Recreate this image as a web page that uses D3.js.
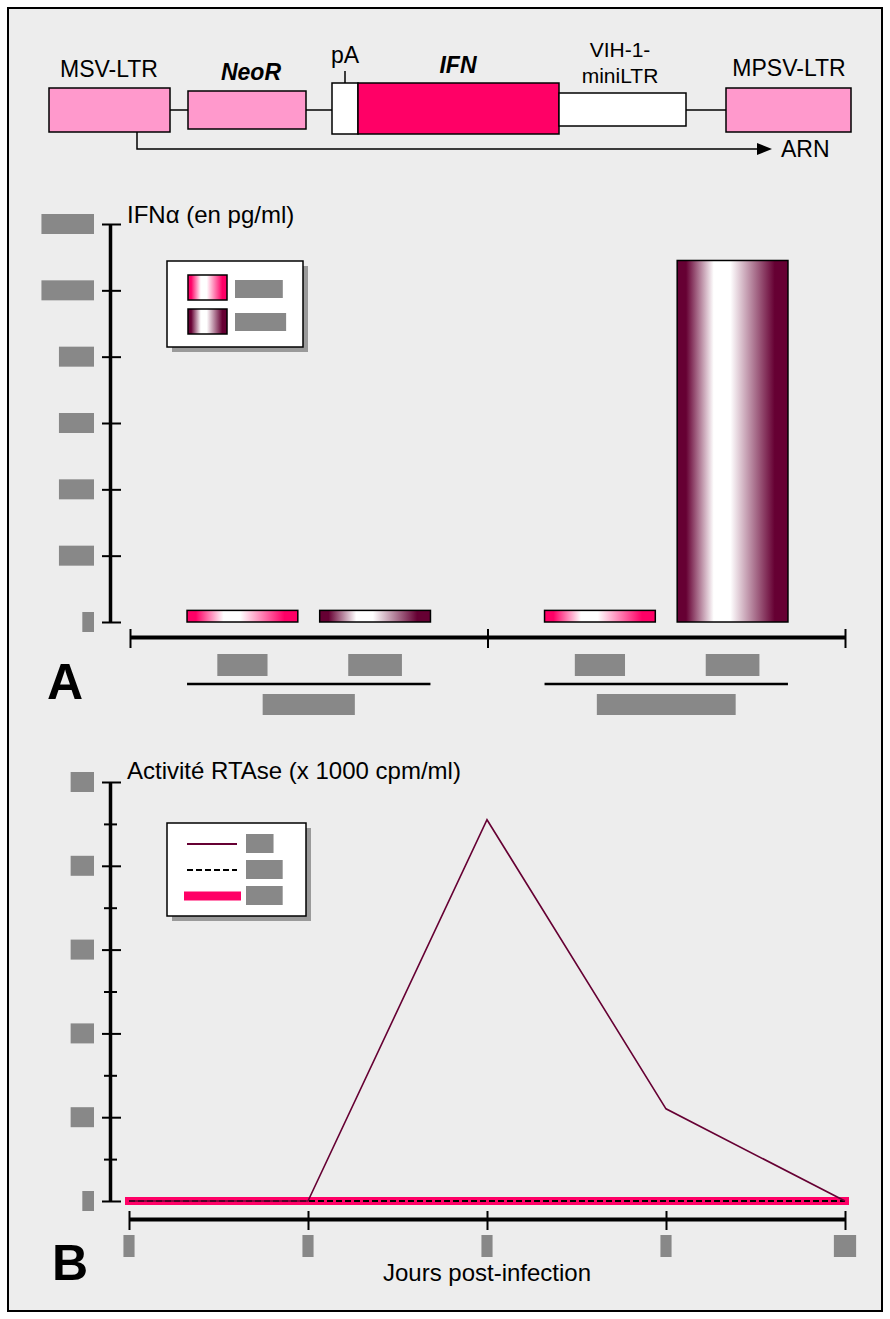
<!DOCTYPE html>
<html><head><meta charset="utf-8">
<script src="https://cdn.jsdelivr.net/npm/d3@7"></script>
<style>
body{margin:0;background:#fff}
svg{display:block}
text{font-family:"Liberation Sans",Arial,Helvetica,sans-serif;fill:#000}
</style>
</head><body>
<svg id="c" width="890" height="1319"></svg>
<script>
// ---------- DATA ----------
const ifnGroups = ["CEM-Neo", "CEM-MSV-IFN"];          // redacted group labels (panel A)
const ifnSeries = ["Mock", "VIH-1"];                    // redacted legend / bar labels (panel A)
const ifnMock   = [35, 35];                             // IFNα pg/ml, pink bars
const ifnVIH    = [35, 1090];                           // IFNα pg/ml, maroon bars
const ifnTicks  = [0, 200, 400, 600, 800, 1000, 1200];

const rtDays    = [0, 3, 6, 9, 12];                     // Jours post-infection
const rtSeries  = ["Neo", "IFN 1", "IFN 2"];            // redacted legend labels (panel B)
const rtNeo     = [0, 0, 45.5, 11, 0];                  // RTAse x1000 cpm/ml
const rtIfn1    = [0, 0, 0, 0, 0];
const rtIfn2    = [0, 0, 0, 0, 0];
const rtTicks   = [0, 10, 20, 30, 40, 50];
const rtMinor   = [5, 15, 25, 35, 45];

// ---------- STYLE ----------
const PINK = "#ff0066", MAROON = "#660033", LIGHT = "#ff99cc", GREY = "#888888", BG = "#ededed";
const svg = d3.select("#c");
const fr = d3.formatLocale({decimal: ",", thousands: "\u00a0", grouping: [3], currency: ["", " €"]}).format(",d");

const meas = svg.append("text").style("visibility", "hidden");
function tw(s, fs) { meas.attr("font-size", fs).text(s); return meas.node().getComputedTextLength(); }

// frame
svg.append("rect").attr("x", 8).attr("y", 8).attr("width", 874).attr("height", 1303)
  .attr("fill", BG).attr("stroke", "#000").attr("stroke-width", 2);

// gradients
const defs = svg.append("defs");
function grad(id, color) {
  const g = defs.append("linearGradient").attr("id", id).attr("x1", 0).attr("x2", 1).attr("y1", 0).attr("y2", 0);
  [[0, color], [0.08, color], [0.33, "#fff"], [0.48, "#fff"], [0.88, color], [1, color]]
    .forEach(([o, c]) => g.append("stop").attr("offset", o).attr("stop-color", c));
}
grad("gPink", PINK); grad("gMaroon", MAROON);
const seriesFill = {"Mock": "url(#gPink)", "VIH-1": "url(#gMaroon)"};

// ---------- CONSTRUCT DIAGRAM ----------
const diag = svg.append("g");
diag.append("line").attr("x1", 170).attr("x2", 726).attr("y1", 110).attr("y2", 110).attr("stroke", "#000").attr("stroke-width", 1.5);
const boxes = [
  {x: 49, y: 88, w: 121, h: 44, f: LIGHT},
  {x: 188, y: 91, w: 118, h: 38, f: LIGHT},
  {x: 332, y: 83, w: 26, h: 51, f: "#fff"},
  {x: 358, y: 83, w: 201, h: 51, f: PINK},
  {x: 559, y: 93, w: 127, h: 33, f: "#fff"},
  {x: 726, y: 88, w: 125, h: 44, f: LIGHT}
];
diag.selectAll("rect.b").data(boxes).join("rect").attr("class", "b")
  .attr("x", d => d.x).attr("y", d => d.y).attr("width", d => d.w).attr("height", d => d.h)
  .attr("fill", d => d.f).attr("stroke", "#000").attr("stroke-width", 1.5);
diag.append("line").attr("x1", 345).attr("x2", 345).attr("y1", 71).attr("y2", 83).attr("stroke", "#000").attr("stroke-width", 1.5);
const lab = (t, x, y, opts = {}) => diag.append("text").attr("x", x).attr("y", y).attr("text-anchor", "middle")
  .attr("font-size", opts.fs || 23).attr("font-weight", opts.b ? "bold" : null).attr("font-style", opts.i ? "italic" : null).text(t);
lab("MSV-LTR", 109, 77);
lab("NeoR", 251, 80, {b: 1, i: 1});
lab("pA", 345, 63);
lab("IFN", 458, 73, {b: 1, i: 1});
lab("VIH-1-", 620, 57, {fs: 21});
lab("miniLTR", 620, 83, {fs: 21});
lab("MPSV-LTR", 789, 76);
diag.append("path").attr("d", "M137,132V149H760").attr("fill", "none").attr("stroke", "#000").attr("stroke-width", 1.5);
diag.append("path").attr("d", "M757,143L772,149L757,155Z").attr("fill", "#000");
diag.append("text").attr("x", 781).attr("y", 157).attr("font-size", 23).text("ARN");

// ---------- PANEL A ----------
const yA = d3.scaleLinear().domain([0, 1200]).range([622, 224]);
const gYA = svg.append("g").attr("transform", "translate(110,0)")
  .call(d3.axisLeft(yA).tickValues(ifnTicks).tickSizeOuter(0).tickFormat(""));
gYA.select(".domain").attr("stroke-width", 3.5);
gYA.selectAll(".tick line").attr("x1", -8).attr("x2", 11).attr("stroke-width", 2);
svg.append("g").selectAll("rect").data(ifnTicks).join("rect")
  .attr("x", d => 94 - tw(fr(d), 21)).attr("width", d => tw(fr(d), 21))
  .attr("y", d => yA(d) - 10).attr("height", 20).attr("fill", GREY);

svg.append("text").attr("x", 127).attr("y", 223).attr("font-size", 24).text("IFNα (en pg/ml)");

const xA = d3.scaleBand().domain(ifnGroups).range([130, 845]);
const xIn = d3.scaleBand().domain(ifnSeries).range([0, xA.bandwidth()]).paddingInner(0.165).paddingOuter(0.43);
const xEdge = d3.scaleLinear().domain([0, ifnGroups.length]).range(xA.range());
const gXA = svg.append("g").attr("transform", "translate(0,637)")
  .call(d3.axisBottom(xEdge).tickValues(d3.range(ifnGroups.length + 1)).tickSizeOuter(0).tickFormat(""));
gXA.select(".domain").attr("stroke-width", 4);
gXA.selectAll(".tick line").attr("y1", -8).attr("y2", 11).attr("stroke-width", 2);

const barData = [];
ifnGroups.forEach((g, gi) => {
  barData.push({g, s: ifnSeries[0], v: ifnMock[gi]});
  barData.push({g, s: ifnSeries[1], v: ifnVIH[gi]});
});
svg.append("g").selectAll("rect").data(barData).join("rect")
  .attr("x", d => xA(d.g) + xIn(d.s)).attr("width", xIn.bandwidth())
  .attr("y", d => yA(d.v)).attr("height", d => yA(0) - yA(d.v))
  .attr("fill", d => seriesFill[d.s]).attr("stroke", "#000").attr("stroke-width", 1.5);
// bar labels (redacted)
svg.append("g").selectAll("rect").data(barData).join("rect")
  .attr("x", d => xA(d.g) + xIn(d.s) + xIn.bandwidth() / 2 - tw(d.s, 21) / 2).attr("width", d => tw(d.s, 21))
  .attr("y", 654).attr("height", 22).attr("fill", GREY);
// group lines + labels
const gg = svg.append("g").selectAll("g").data(ifnGroups).join("g");
gg.append("line")
  .attr("x1", d => xA(d) + xIn(ifnSeries[0]))
  .attr("x2", d => xA(d) + xIn(ifnSeries[ifnSeries.length - 1]) + xIn.bandwidth())
  .attr("y1", 684).attr("y2", 684).attr("stroke", "#000").attr("stroke-width", 2.5);
gg.append("rect")
  .attr("x", d => xA(d) + xA.bandwidth() / 2 - tw(d, 21) / 2).attr("width", d => tw(d, 21))
  .attr("y", 694).attr("height", 21).attr("fill", GREY);

// legend A
const lgA = svg.append("g");
lgA.append("rect").attr("x", 172).attr("y", 266).attr("width", 136).attr("height", 86).attr("fill", "#9a9a9a");
lgA.append("rect").attr("x", 167).attr("y", 261).attr("width", 136).attr("height", 86).attr("fill", "#fff").attr("stroke", "#000").attr("stroke-width", 1.5);
lgA.selectAll("rect.sw").data(ifnSeries).join("rect").attr("class", "sw")
  .attr("x", 188).attr("y", (d, i) => 275 + i * 34).attr("width", 39).attr("height", 25)
  .attr("fill", d => seriesFill[d]).attr("stroke", "#000").attr("stroke-width", 1.5);
lgA.selectAll("rect.lb").data(ifnSeries).join("rect").attr("class", "lb")
  .attr("x", 235).attr("y", (d, i) => 280 + i * 33).attr("width", d => tw(d, 20)).attr("height", 18).attr("fill", GREY);

svg.append("text").attr("x", 47).attr("y", 699).attr("font-family", "DejaVu Sans").attr("font-weight", "bold")
  .attr("font-size", 50).text("A");

// ---------- PANEL B ----------
const yB = d3.scaleLinear().domain([0, 50]).range([1201, 782]);
const xB = d3.scaleLinear().domain([0, 12]).range([129, 845]);
const gYB = svg.append("g").attr("transform", "translate(110,0)")
  .call(d3.axisLeft(yB).tickValues(rtTicks).tickSizeOuter(0).tickFormat(""));
gYB.select(".domain").attr("stroke-width", 3.5);
gYB.selectAll(".tick line").attr("x1", -8).attr("x2", 11).attr("stroke-width", 2);
const gYBm = svg.append("g").attr("transform", "translate(110,0)")
  .call(d3.axisLeft(yB).tickValues(rtMinor).tickSizeOuter(0).tickFormat(""));
gYBm.select(".domain").remove();
gYBm.selectAll(".tick line").attr("x1", -6).attr("x2", 7).attr("stroke-width", 2);
svg.append("g").selectAll("rect").data(rtTicks).join("rect")
  .attr("x", d => 94 - tw(fr(d), 21)).attr("width", d => tw(fr(d), 21))
  .attr("y", d => yB(d) - 10).attr("height", 20).attr("fill", GREY);

const gXB = svg.append("g").attr("transform", "translate(0,1219)")
  .call(d3.axisBottom(xB).tickValues(rtDays).tickSizeOuter(0).tickFormat(""));
gXB.select(".domain").attr("stroke-width", 4);
gXB.selectAll(".tick line").attr("y1", -8).attr("y2", 11).attr("stroke-width", 2);
svg.append("g").selectAll("rect").data(rtDays).join("rect")
  .attr("x", d => xB(d) - tw(fr(d), 20) / 2).attr("width", d => tw(fr(d), 20))
  .attr("y", 1235).attr("height", 22).attr("fill", GREY);

svg.append("text").attr("x", 127).attr("y", 779).attr("font-size", 24).text("Activité RTAse (x 1000 cpm/ml)");
svg.append("text").attr("x", (xB.range()[0] + xB.range()[1]) / 2).attr("y", 1281).attr("text-anchor", "middle")
  .attr("font-size", 24).text("Jours post-infection");

const line = d3.line().x((d, i) => xB(rtDays[i])).y(d => yB(d));
svg.append("path").datum(rtIfn2).attr("d", line).attr("fill", "none").attr("stroke", PINK).attr("stroke-width", 8).attr("stroke-linecap", "square");
svg.append("path").datum(rtIfn1).attr("d", line).attr("fill", "none").attr("stroke", "#000").attr("stroke-width", 2).attr("stroke-dasharray", "6,3");
svg.append("path").datum(rtNeo).attr("d", line).attr("fill", "none").attr("stroke", MAROON).attr("stroke-width", 1.6);

// legend B
const lgB = svg.append("g");
lgB.append("rect").attr("x", 172).attr("y", 828).attr("width", 139).attr("height", 93).attr("fill", "#9a9a9a");
lgB.append("rect").attr("x", 167).attr("y", 823).attr("width", 139).attr("height", 93).attr("fill", "#fff").attr("stroke", "#000").attr("stroke-width", 1.5);
const lgStyles = [
  {stroke: MAROON, w: 2, dash: null, x1: 187, x2: 237},
  {stroke: "#000", w: 2, dash: "6,3", x1: 187, x2: 237},
  {stroke: PINK, w: 9, dash: null, x1: 184, x2: 241}
];
lgB.selectAll("line").data(rtSeries).join("line")
  .attr("x1", (d, i) => lgStyles[i].x1).attr("x2", (d, i) => lgStyles[i].x2)
  .attr("y1", (d, i) => 844 + i * 26).attr("y2", (d, i) => 844 + i * 26)
  .attr("stroke", (d, i) => lgStyles[i].stroke).attr("stroke-width", (d, i) => lgStyles[i].w)
  .attr("stroke-dasharray", (d, i) => lgStyles[i].dash);
lgB.selectAll("rect.lb").data(rtSeries).join("rect").attr("class", "lb")
  .attr("x", 246).attr("y", (d, i) => 834 + i * 26).attr("width", d => tw(d, 15)).attr("height", 19).attr("fill", GREY);

svg.append("text").attr("x", 52).attr("y", 1280).attr("font-family", "DejaVu Sans").attr("font-weight", "bold")
  .attr("font-size", 50).text("B");

meas.remove();
</script>
</body></html>
